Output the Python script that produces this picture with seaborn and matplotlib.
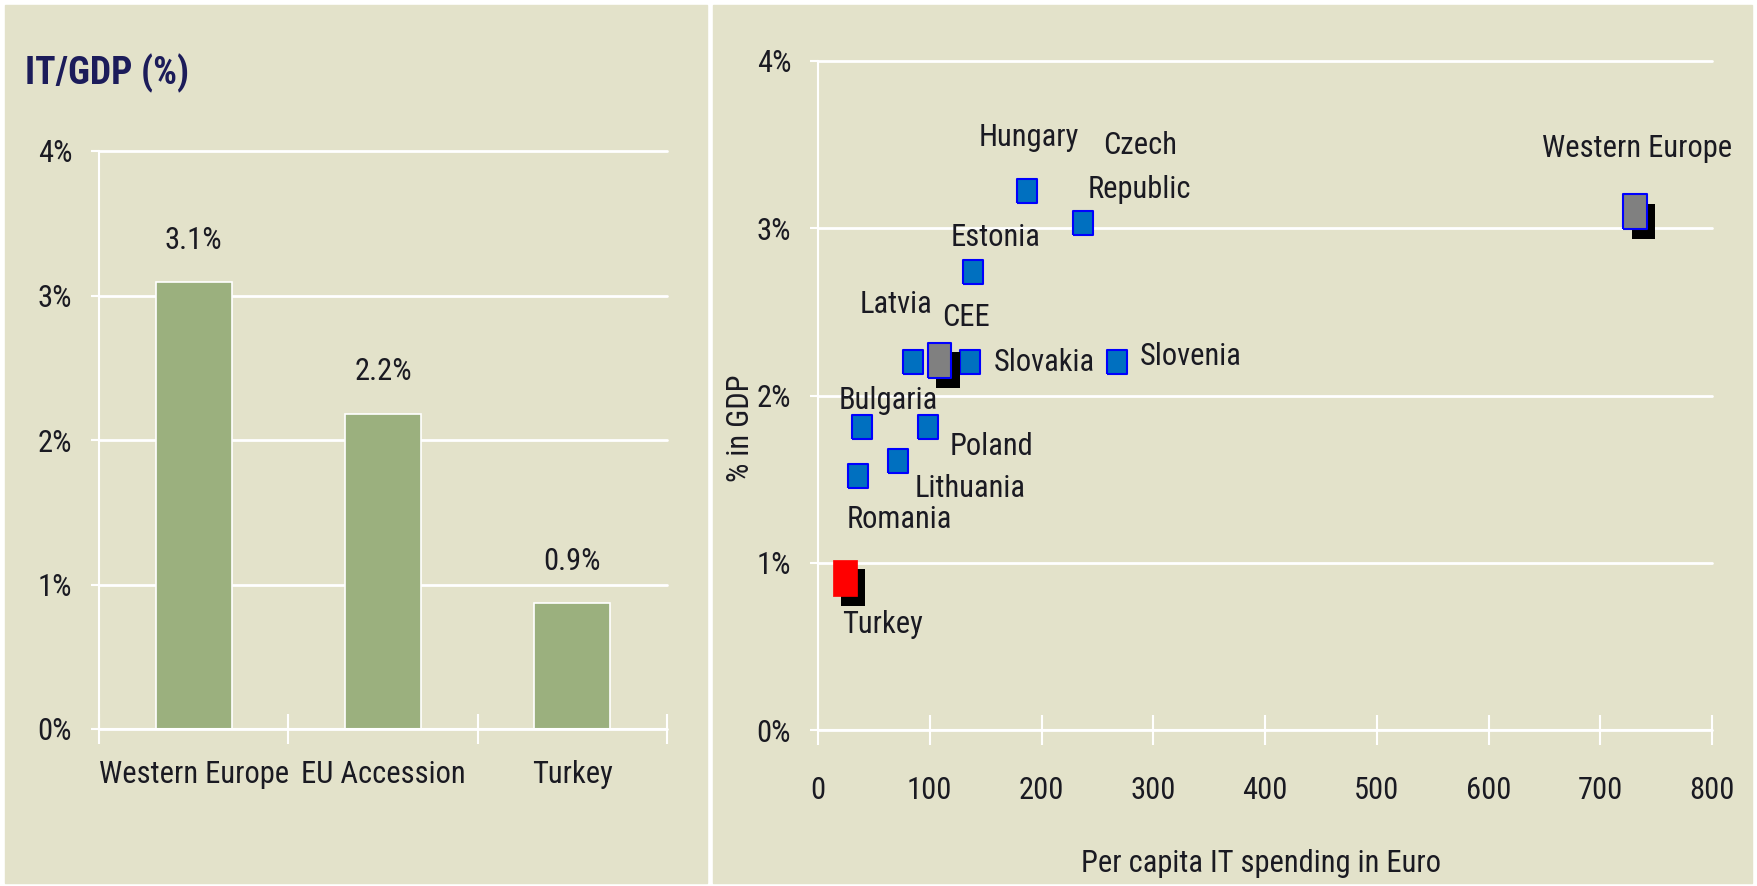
"""
IT spending charts: IT/GDP bars and per-capita IT spending scatter
"""

# %% ---- Requirements and constants ------------------------
import pandas as pd
import seaborn as sns
import matplotlib.pyplot as plt
import matplotlib.patheffects as pe
from matplotlib import font_manager
from matplotlib.patches import Rectangle

# left chart: IT/GDP (%)
bar_regions = ['Western Europe', 'EU Accession', 'Turkey']
bar_values = [3.09, 2.18, 0.87]

# right chart: per capita IT spending (Euro) vs % in GDP
countries = ['Hungary', 'Czech\nRepublic', 'Estonia', 'Latvia', 'Slovakia', 'Slovenia',
             'Bulgaria', 'Poland', 'Lithuania', 'Romania']
country_spend = [187, 237, 139, 85, 136, 268, 39, 98, 72, 36]
country_share = [3.22, 3.03, 2.74, 2.20, 2.20, 2.20, 1.81, 1.81, 1.61, 1.52]

aggregates = ['CEE', 'Western Europe']
aggregate_spend = [109, 731]
aggregate_share = [2.21, 3.10]

turkey_name = ['Turkey']
turkey_spend = [24]
turkey_share = [0.91]

x_ticks = [0, 100, 200, 300, 400, 500, 600, 700, 800]
y_ticks = [0, 1, 2, 3, 4]

# label offsets in pixels (dx, dy) from the marker centre
label_offsets = {
    'Hungary': (2, 54), 'Czech\nRepublic': (57, 56), 'Estonia': (22, 34),
    'Latvia': (-17, 58), 'Slovakia': (74, 0), 'Slovenia': (73, 6),
    'Bulgaria': (27, 27), 'Poland': (64, -19), 'Lithuania': (72, -28),
    'Romania': (41, -44), 'CEE': (26, 43), 'Western Europe': (2, 63),
    'Turkey': (38, -47),
}

BG = '#E3E2CA'
GREEN = '#9BB07E'
TXT = '#1a1a22'

sns.set_theme(style='white')
avail = {f.name for f in font_manager.fontManager.ttflist}
narrow = next((f for f in ['Liberation Sans Narrow', 'Roboto Condensed',
                           'Open Sans Condensed', 'Liberation Sans'] if f in avail), 'DejaVu Sans')
plt.rcParams['font.family'] = [narrow, 'DejaVu Sans']
plt.rcParams['text.color'] = TXT
FS = 22


def style_axes(ax):
    ax.set_facecolor(BG)
    ax.set_axisbelow(True)
    ax.grid(axis='y', color='white', linewidth=2)
    ax.grid(axis='x', visible=False)
    for line in ax.get_ygridlines():
        line.set_clip_on(False)
    for side in ['top', 'right']:
        ax.spines[side].set_visible(False)
    for side in ['left', 'bottom']:
        ax.spines[side].set_color('white')
        ax.spines[side].set_linewidth(1.5)
    ax.tick_params(axis='y', which='major', direction='out', length=5.8, width=1.5,
                   color='white', pad=13.5, labelsize=FS, labelcolor=TXT, left=True)
    ax.set_yticks(y_ticks)
    ax.set_yticklabels([f'{v}%' for v in y_ticks])
    ax.set_ylim(0, 4)


# %% ---- Play ground ------------------------
fig = plt.figure(figsize=(17.58, 8.86), dpi=100)
fig.patch.set_facecolor('white')
fig.add_artist(Rectangle((5 / 1758, 3 / 886), 702 / 1758, 878 / 886,
                         transform=fig.transFigure, color=BG, zorder=-10))
fig.add_artist(Rectangle((713 / 1758, 3 / 886), 1039 / 1758, 878 / 886,
                         transform=fig.transFigure, color=BG, zorder=-10))

# ---- left: bars
ax1 = fig.add_axes([99 / 1758, 157 / 886, 568 / 1758, 578 / 886])
bar_df = pd.DataFrame({'region': bar_regions, 'value': bar_values})
sns.barplot(bar_df, x='region', y='value', color=GREEN, saturation=1,
            width=0.4, edgecolor='white', linewidth=1.2, ax=ax1)
style_axes(ax1)
ax1.set_xlim(-0.5, 2.5)
ax1.set_xlabel('')
ax1.set_ylabel('')
ax1.set_xticks([-0.5, 0.5, 1.5, 2.5], minor=True)
ax1.tick_params(axis='x', which='minor', direction='inout', length=21.6, width=1.5,
                color='white', bottom=True)
ax1.tick_params(axis='x', which='major', length=0, pad=22, labelsize=FS, labelcolor=TXT)
ax1.bar_label(ax1.containers[0], labels=[f'{v:.1f}%' for v in bar_values],
              padding=20, fontsize=FS, color=TXT)
fig.text(25 / 1758, 1 - 73 / 886, 'IT/GDP (%)', ha='left', va='center',
         fontsize=27, fontweight='bold', color='#1c1c5a')

# ---- right: scatter
ax2 = fig.add_axes([818 / 1758, 156 / 886, 894 / 1758, 669 / 886])
style_axes(ax2)
ax2.set_xlim(0, 800)
ax2.set_xticks(x_ticks)
ax2.tick_params(axis='x', which='major', direction='inout', length=21.6, width=1.5,
                color='white', bottom=True, pad=22, labelsize=FS, labelcolor=TXT)

small_rect = [(-0.79, -1), (0.79, -1), (0.79, 1), (-0.79, 1), (-0.79, -1)]
big_rect = [(-0.66, -1), (0.66, -1), (0.66, 1), (-0.66, 1), (-0.66, -1)]
shadow = [pe.SimplePatchShadow(offset=(6, -7), shadow_rgbFace='black', alpha=1.0), pe.Normal()]

country_df = pd.DataFrame({'name': countries, 'spend': country_spend, 'share': country_share})
agg_df = pd.DataFrame({'name': aggregates, 'spend': aggregate_spend, 'share': aggregate_share})
tr_df = pd.DataFrame({'name': turkey_name, 'spend': turkey_spend, 'share': turkey_share})

sns.scatterplot(country_df, x='spend', y='share', marker=small_rect, s=300,
                color='#0070C0', edgecolor='#0000FF', linewidth=1.5, ax=ax2, zorder=3)
sns.scatterplot(agg_df, x='spend', y='share', marker=big_rect, s=650,
                color='#808080', edgecolor='#0000FF', linewidth=1.5, ax=ax2, zorder=3)
ax2.collections[-1].set_path_effects(shadow)
sns.scatterplot(tr_df, x='spend', y='share', marker=big_rect, s=680,
                color='#FF0000', edgecolor='#FF0000', linewidth=0.5, ax=ax2, zorder=3)
ax2.collections[-1].set_path_effects(shadow)

for df in [country_df, agg_df, tr_df]:
    for name, x, y in zip(df['name'], df['spend'], df['share']):
        ax2.annotate(name, (x, y), xytext=label_offsets[name], textcoords='offset pixels',
                     ha='center', va='center', fontsize=FS, color=TXT,
                     linespacing=1.65, zorder=4)

ax2.set_xlabel('Per capita IT spending in Euro', fontsize=FS, color=TXT)
ax2.set_ylabel('% in GDP', fontsize=FS, color=TXT)
ax2.xaxis.label.set_va('center')
ax2.yaxis.label.set_va('center')
ax2.xaxis.set_label_coords(0.4955, -0.199)
ax2.yaxis.set_label_coords(-0.087, 0.451)

fig.savefig('out.png', dpi=100, facecolor='white')
